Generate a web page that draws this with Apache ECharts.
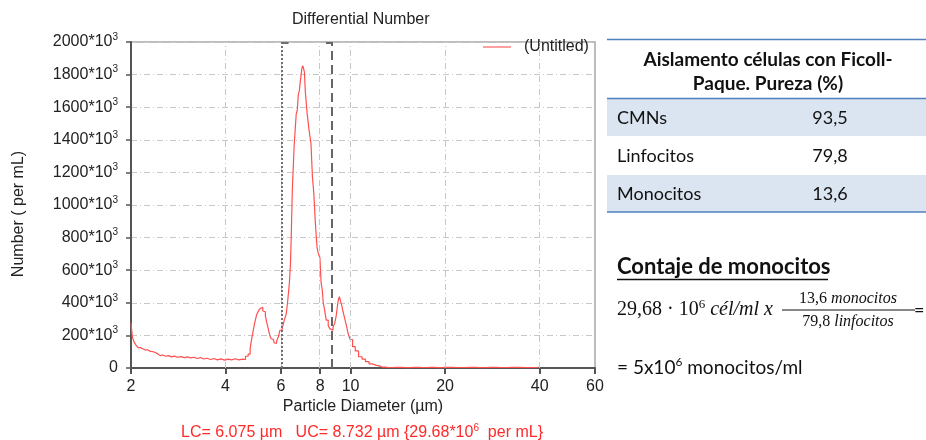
<!DOCTYPE html>
<html><head><meta charset="utf-8">
<script src="https://cdn.jsdelivr.net/npm/echarts@6/dist/echarts.min.js"></script>
<style>html,body{margin:0;padding:0;background:#fff}#c{width:926px;height:440px}</style>
</head><body><div id="c"></div>
<script>
// Particle diameter (µm)
const diameters = [2.00,2.01,2.03,2.06,2.09,2.12,2.16,2.20,2.24,2.28,2.33,2.37,2.41,2.45,2.50,2.55,2.60,2.66,2.72,2.78,2.85,2.92,2.99,3.06,3.13,3.21,3.29,3.37,3.45,3.54,3.63,3.72,3.82,3.92,4.02,4.13,4.24,4.35,4.47,4.58,4.68,4.76,4.82,4.88,4.94,5.00,5.06,5.12,5.18,5.23,5.28,5.33,5.38,5.44,5.50,5.56,5.62,5.68,5.74,5.80,5.86,5.92,5.98,6.05,6.13,6.20,6.28,6.35,6.42,6.46,6.50,6.55,6.60,6.63,6.70,6.73,6.80,6.84,6.90,6.94,6.98,7.02,7.07,7.11,7.15,7.20,7.24,7.30,7.35,7.40,7.46,7.50,7.54,7.58,7.62,7.66,7.70,7.75,7.80,7.85,7.95,8.02,8.10,8.15,8.22,8.30,8.43,8.55,8.65,8.74,8.85,8.96,9.04,9.11,9.18,9.25,9.33,9.41,9.52,9.64,9.76,9.88,10.05,10.25,10.45,10.76,11.0,11.31,11.6,11.87,12.2,12.63,13.2,14,15,16,17,18,19,20,22,24,26,28,30,33,36,39,39.6];
// Number (×10^3 per mL)
const counts = [275,265,190,160,140,125,118,110,112,102,100,95,88,76,80,72,76,68,73,66,70,64,68,62,66,58,64,55,60,52,58,50,56,48,54,50,57,50,54,52,72,85,120,185,240,290,330,350,365,372,350,345,320,280,240,200,180,175,155,150,172,190,230,235,260,300,330,420,520,650,840,1090,1100,1370,1380,1560,1580,1680,1700,1760,1770,1840,1855,1835,1815,1700,1690,1565,1560,1460,1455,1380,1370,1175,1170,1070,1060,890,880,735,700,680,520,480,400,360,294,260,240,232,250,275,320,376,420,437,410,386,345,305,260,213,175,131,105,69,55,39,25,18,12,5,3,4,2,4,3,4,2,4,3,4,2,4,3,4,2,3,4];
const xTicks = [2,4,6,8,10,20,40,60];
const xGridTicks = [4,6,8,10,20,40];
const yMin = 0, yMax = 2000, yStep = 200;
const LC = 6.075, UC = 8.732;
const seriesName = '(Untitled)';
const tableHeader = ['Aislamento células con Ficoll-', 'Paque. Pureza (%)'];
const tableRows = ['CMNs', 'Linfocitos', 'Monocitos'];
const tableValues = ['93,5', '79,8', '13,6'];

const lg = Math.log10;
const AFam = '"Liberation Sans", Arial, sans-serif';
const CFam = 'Lato, "Noto Sans", sans-serif';
const SFam = '"Liberation Serif", "DejaVu Serif", serif';

const chart = echarts.init(document.getElementById('c'), null, {renderer: 'canvas'});

const gridLineStyle = {color: '#c8c8c8', width: 1, type: [6, 3, 1, 3]};
const lcStyle = {color: '#707070', width: 2, type: [2, 2]};
const ucStyle = {color: '#666', width: 2, type: [9, 5]};
const markData = xGridTicks.map(t => ({xAxis: lg(t), lineStyle: gridLineStyle}));
markData.push({xAxis: lg(LC), lineStyle: lcStyle});
markData.push({xAxis: lg(UC), lineStyle: ucStyle});

function tok(size, fam, color, extra) {
  return Object.assign({fontSize: size, fontFamily: fam, fill: color}, extra || {});
}

const graphics = [];
// chart texts
graphics.push({type: 'text', x: 19, y: 214, rotation: Math.PI / 2, style: {text: 'Number ( per mL)', font: '16px ' + AFam, fill: '#222', align: 'center', verticalAlign: 'middle'}});
graphics.push({type: 'text', x: 363, y: 407, style: {text: 'Particle Diameter (µm)', font: '16px ' + AFam, fill: '#222', align: 'center', verticalAlign: 'middle'}});
graphics.push({type: 'text', x: 362, y: 433, style: {
  text: '{a|LC= 6.075 µm   UC= 8.732 µm {29.68*10}{s|6}{a|  per mL}}', align: 'center', verticalAlign: 'middle',
  font: '16px ' + AFam, fill: '#ff2a2a',
  rich: {a: tok(16, AFam, '#ff2a2a', {lineHeight: 20}), s: tok(10, AFam, '#ff2a2a', {lineHeight: 10, verticalAlign: 'top'})}}});

// table
graphics.push({type: 'rect', shape: {x: 607, y: 99, width: 319, height: 37}, style: {fill: '#dbe5f1'}});
graphics.push({type: 'rect', shape: {x: 607, y: 175, width: 319, height: 37}, style: {fill: '#dbe5f1'}});
[39.5, 98.5, 212].forEach(y => graphics.push({type: 'line', shape: {x1: 607, y1: y, x2: 926, y2: y}, style: {stroke: '#4f81bd', lineWidth: 1.5}}));
tableHeader.forEach((t, i) => graphics.push({type: 'text', x: 768, y: 60 + i * 24, style: {text: t, font: 'bold 19px ' + CFam, fill: '#111', align: 'center', verticalAlign: 'middle'}}));
tableRows.forEach((t, i) => {
  const y = 118 + i * 38;
  graphics.push({type: 'text', x: 617, y: y, style: {text: t, font: '18px ' + CFam, fill: '#111', align: 'left', verticalAlign: 'middle'}});
  graphics.push({type: 'text', x: 830, y: y, style: {text: tableValues[i], font: '18px ' + CFam, fill: '#111', align: 'center', verticalAlign: 'middle'}});
});
// monocyte count
graphics.push({type: 'text', x: 617, y: 267, style: {text: 'Contaje de monocitos', font: 'bold 22px ' + CFam, fill: '#111', align: 'left', verticalAlign: 'middle'}});
graphics.push({type: 'line', shape: {x1: 617, y1: 279.5, x2: 828, y2: 279.5}, style: {stroke: '#111', lineWidth: 1.6}});
graphics.push({type: 'text', x: 617, y: 310, style: {
  text: '{n|29,68 · 10}{s|6}{i| cél/ml x}', align: 'left', verticalAlign: 'middle',
  rich: {n: tok(20, SFam, '#111', {lineHeight: 24}), s: tok(13, SFam, '#111', {lineHeight: 13, verticalAlign: 'top'}),
         i: tok(20, SFam, '#111', {lineHeight: 24, fontStyle: 'italic'})}}});
graphics.push({type: 'text', x: 848, y: 299, style: {
  text: '{n|13,6 }{i|monocitos}', align: 'center', verticalAlign: 'middle',
  rich: {n: tok(16, SFam, '#111'), i: tok(16, SFam, '#111', {fontStyle: 'italic'})}}});
graphics.push({type: 'line', shape: {x1: 782, y1: 310, x2: 915, y2: 310}, style: {stroke: '#111', lineWidth: 1.2}});
graphics.push({type: 'text', x: 848, y: 322, style: {
  text: '{n|79,8 }{i|linfocitos}', align: 'center', verticalAlign: 'middle',
  rich: {n: tok(16, SFam, '#111'), i: tok(16, SFam, '#111', {fontStyle: 'italic'})}}});
graphics.push({type: 'text', x: 914, y: 310, style: {text: '=', font: '18px ' + CFam, fill: '#111', align: 'left', verticalAlign: 'middle'}});
graphics.push({type: 'text', x: 617, y: 368, style: {
  text: '{a|= 5x10}{s|6}{a| monocitos/ml}', align: 'left', verticalAlign: 'middle',
  rich: {a: tok(19, CFam, '#111', {lineHeight: 24}), s: tok(12, CFam, '#111', {lineHeight: 12, verticalAlign: 'top'})}}});

chart.setOption({
  animation: false,
  backgroundColor: '#fff',
  title: {text: 'Differential Number', left: 292, top: 12, padding: 0,
    textStyle: {fontFamily: AFam, fontSize: 16, fontWeight: 'normal', color: '#222'}},
  legend: {left: 483, top: 39, padding: 0, itemWidth: 28, itemHeight: 2, icon: 'rect',
    data: [{name: seriesName, itemStyle: {color: '#ffa0a0'}}],
    textStyle: {fontFamily: AFam, fontSize: 16, color: '#222', padding: [0, 0, 0, 8]}},
  grid: {left: 131, top: 42, width: 464, height: 326, show: true, borderColor: '#a8a8a8', borderWidth: 1.5, backgroundColor: '#fff'},
  xAxis: {
    type: 'value', min: lg(2), max: lg(60),
    axisLine: {show: true, lineStyle: {color: '#555', width: 2}},
    axisTick: {show: true, length: 6, customValues: xTicks.map(lg), lineStyle: {color: '#555', width: 2}},
    axisLabel: {customValues: xTicks.map(lg), margin: 11, formatter: v => String(Math.round(Math.pow(10, v))),
      fontFamily: AFam, fontSize: 16, color: '#222'},
    splitLine: {show: false}
  },
  yAxis: {
    type: 'value', min: yMin, max: yMax, interval: yStep,
    axisLine: {show: true, lineStyle: {color: '#555', width: 2}},
    axisTick: {show: true, length: 5, lineStyle: {color: '#555', width: 1.5}},
    axisLabel: {margin: 13, formatter: v => v === 0 ? '0' : '{b|' + v + '*10}{s|3}',
      fontFamily: AFam, fontSize: 16, color: '#222',
      rich: {b: {fontFamily: AFam, fontSize: 16, color: '#222', lineHeight: 20},
             s: {fontFamily: AFam, fontSize: 10, color: '#222', lineHeight: 10, verticalAlign: 'top'}}},
    splitLine: {show: true, lineStyle: gridLineStyle}
  },
  series: [{
    name: seriesName, type: 'line', step: 'middle', showSymbol: false,
    data: diameters.map((d, i) => [lg(d), counts[i]]),
    lineStyle: {color: '#ff5050', width: 1.2}, itemStyle: {color: '#ff5050'},
    z: 3,
    markLine: {silent: true, symbol: ['none', 'none'], label: {show: false}, animation: false, data: markData}
  }],
  graphic: graphics
});

// small top brackets of the LC / UC cursors, placed through the axis scale
const pLC = chart.convertToPixel({gridIndex: 0}, [lg(LC), yMax]);
const pUC = chart.convertToPixel({gridIndex: 0}, [lg(UC), yMax]);
const extra = [
  {type: 'line', z: 10, shape: {x1: pLC[0], y1: pLC[1] + 1, x2: pLC[0] + 6, y2: pLC[1] + 1}, style: {stroke: '#707070', lineWidth: 2}},
  {type: 'line', z: 10, shape: {x1: pUC[0] - 6, y1: pUC[1] + 1, x2: pUC[0], y2: pUC[1] + 1}, style: {stroke: '#666', lineWidth: 2}}
];
chart.setOption({graphic: graphics.concat(extra)});
</script></body></html>
